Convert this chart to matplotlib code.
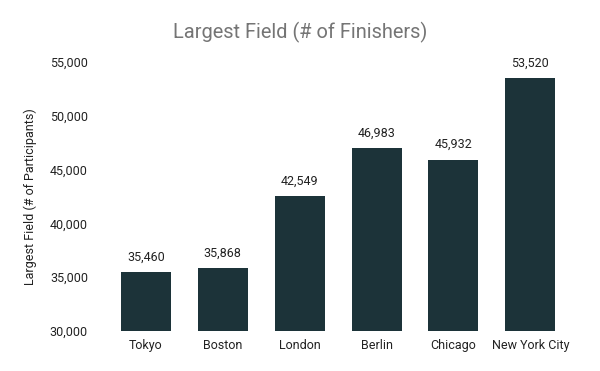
import matplotlib.pyplot as plt

plt.rcParams['font.family'] = ['Roboto', 'DejaVu Sans']

cities = ['Tokyo', 'Boston', 'London', 'Berlin', 'Chicago', 'New York City']
finishers = [35460, 35868, 42549, 46983, 45932, 53520]
yticks = [30000, 35000, 40000, 45000, 50000, 55000]

fig = plt.figure(figsize=(6, 3.71), dpi=100)
ax = fig.add_axes([0.179, 0.108, 0.769, 0.725])

x = range(len(cities))
bars = ax.bar(x, finishers, width=0.65, color='#1c3339')
for xi, v in zip(x, finishers):
    ax.annotate(f'{v:,}', (xi, v), xytext=(0, 6), textcoords='offset points',
                ha='center', va='bottom', fontsize=9, color='#222222')

ax.set_xlim(-0.5, len(cities) - 0.5)
ax.set_ylim(30000, 55000)
ax.set_yticks(yticks)
ax.set_yticklabels([f'{t:,}' for t in yticks])
ax.set_xticks(list(x))
ax.set_xticklabels(cities)
ax.tick_params(length=0, labelsize=9, colors='#222222')
ax.tick_params(axis='y', pad=14)
ax.tick_params(axis='x', pad=6)
for s in ax.spines.values():
    s.set_visible(False)

ax.set_ylabel('Largest Field (# of Participants)', fontsize=9, color='#222222', labelpad=9)
fig.suptitle('Largest Field (# of Finishers)', fontsize=14.4, color='#757575', y=0.94)

fig.savefig('out.png', dpi=100)
